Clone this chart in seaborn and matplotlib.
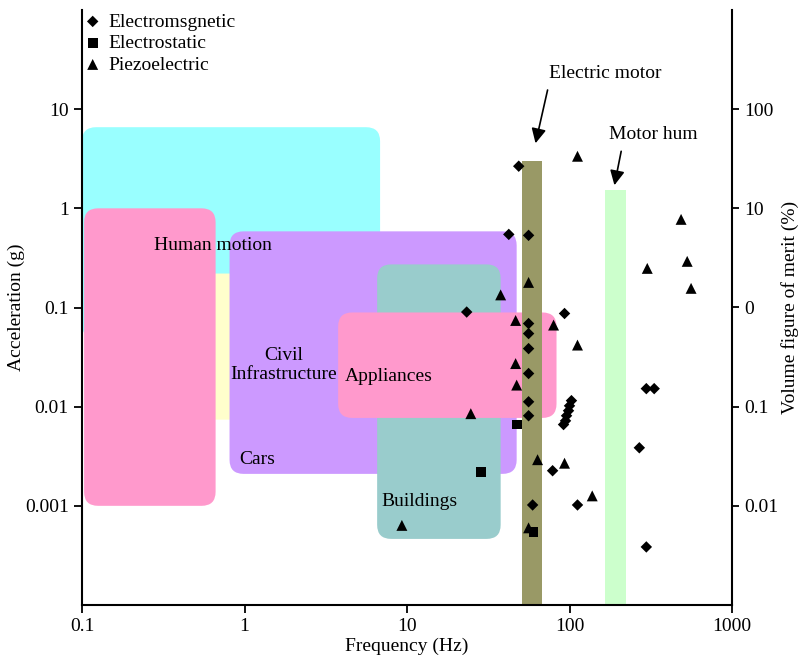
import numpy as np
import pandas as pd
import matplotlib
matplotlib.use('Agg')
import matplotlib.pyplot as plt
import seaborn as sns
from matplotlib.patches import FancyBboxPatch
from matplotlib.ticker import NullLocator

# scatter points: frequency (Hz), acceleration (g)
em_freq = [48.7, 42.3, 56.0, 23.3, 93.2, 56.0, 56.0, 56.0, 56.0, 56.0, 56.0,
           102.8, 100.0, 98.6, 95.9, 94.5, 91.9, 78.7, 59.3, 112.0,
           297.0, 332.0, 269.0, 297.0]
em_acc = [2.66, 0.546, 0.534, 0.090, 0.087, 0.0689, 0.0546, 0.0385, 0.0216, 0.0112, 0.0081,
          0.0115, 0.0102, 0.0091, 0.0081, 0.0072, 0.0066, 0.00226, 0.00102, 0.00102,
          0.0152, 0.0152, 0.00385, 0.000385]

es_freq = [47.3, 28.4, 60.1]
es_acc = [0.0066, 0.0022, 0.000546]

pz_freq = [112.0, 37.7, 56.0, 46.6, 79.8, 112.0, 46.6, 47.3, 24.7, 63.6, 93.2,
           138.0, 9.3, 56.0, 486.0, 301.0, 530.0, 560.0]
pz_acc = [3.35, 0.134, 0.179, 0.074, 0.0665, 0.0418, 0.0272, 0.0165, 0.0085, 0.00292, 0.00269,
          0.00126, 0.000635, 0.0006, 0.774, 0.248, 0.292, 0.156]

# application regions (frequency / acceleration ranges)
region_f_lo = [0.1, 0.3, 0.103, 0.809, 6.55, 3.77]
region_f_hi = [6.83, 1.5, 0.664, 47.3, 37.7, 83.2]
region_a_lo = [0.049, 0.0074, 0.001, 0.0021, 0.000464, 0.0077]
region_a_hi = [6.58, 0.22, 1.0, 0.586, 0.272, 0.0891]
region_colors = ['#99ffff', '#ffffcc', '#ff99cc', '#cc99ff', '#99cccc', '#ff99cc']

# vertical bands: electric motor and motor hum
band_f_lo = [50.8, 166.0]
band_f_hi = [67.3, 224.0]
band_a_hi = [2.98, 1.52]
band_colors = ['#999966', '#ccffcc']

x_ticks = [0.1, 1, 10, 100, 1000]
x_ticklabels = ['0.1', '1', '10', '100', '1000']
y_ticks = [0.001, 0.01, 0.1, 1, 10]
y_ticklabels = ['0.001', '0.01', '0.1', '1', '10']
y2_ticks = [0.01, 0.1, 1, 10, 100]
y2_ticklabels = ['0.01', '0.1', '0', '10', '100']

sns.set_style('ticks')
plt.rcParams['font.family'] = ['Liberation Serif', 'DejaVu Serif']
plt.rcParams['text.color'] = 'black'
plt.rcParams['axes.labelcolor'] = 'black'
plt.rcParams['xtick.color'] = 'black'
plt.rcParams['ytick.color'] = 'black'
fs = 14

fig = plt.figure(figsize=(7.98, 6.56), dpi=100)
ax = fig.add_axes([82 / 798, 1 - 605 / 656, 650 / 798, 595 / 656])
ax.set_xscale('log')
ax.set_yscale('log')
ax.set_xlim(0.1, 1000)
ax.set_ylim(1e-4, 1e2)

# rounded boxes, placed in axes fractions via the log scales
ax_w, ax_h = 650.0, 595.0
r = 14 / ax_w


def to_axes(f, a):
    return ax.transAxes.inverted().transform(ax.transData.transform((f, a)))


for f0, f1, a0, a1, c in zip(region_f_lo, region_f_hi, region_a_lo, region_a_hi, region_colors):
    x0, y0 = to_axes(f0, a0)
    x1, y1 = to_axes(f1, a1)
    box = FancyBboxPatch((x0, y0), x1 - x0, y1 - y0,
                         boxstyle=f'round,pad=0,rounding_size={r}',
                         mutation_aspect=ax_w / ax_h,
                         transform=ax.transAxes, facecolor=c, edgecolor='none',
                         zorder=1, clip_on=True)
    ax.add_patch(box)

# motor bands
ymin = ax.get_ylim()[0]
for f0, f1, a1, c in zip(band_f_lo, band_f_hi, band_a_hi, band_colors):
    ax.bar(f0, a1 - ymin, width=f1 - f0, bottom=ymin, align='edge',
           color=c, edgecolor='none', zorder=2)

# scatter points
sns.scatterplot(x=em_freq, y=em_acc, marker='D', s=34, color='black',
                edgecolor='none', label='Electromsgnetic', ax=ax, zorder=4)
sns.scatterplot(x=es_freq, y=es_acc, marker='s', s=50, color='black',
                edgecolor='none', label='Electrostatic', ax=ax, zorder=4)
sns.scatterplot(x=pz_freq, y=pz_acc, marker='^', s=62, color='black',
                edgecolor='none', label='Piezoelectric', ax=ax, zorder=4)

# region labels
ax.text(0.636, 0.423, 'Human motion', ha='center', va='center', fontsize=fs, zorder=3)
ax.text(1.74, 0.0263, 'Civil\nInfrastructure', ha='center', va='center',
        fontsize=fs, linespacing=1.2, zorder=3)
ax.text(7.76, 0.0201, 'Appliances', ha='center', va='center', fontsize=fs, zorder=3)
ax.text(1.19, 0.00292, 'Cars', ha='center', va='center', fontsize=fs, zorder=3)
ax.text(11.9, 0.0011, 'Buildings', ha='center', va='center', fontsize=fs, zorder=3)

arrow = dict(arrowstyle='-|>', color='black', lw=1.2, mutation_scale=22,
             shrinkA=0, shrinkB=0)
ax.text(166, 23.1, 'Electric motor', ha='center', va='center', fontsize=fs)
ax.annotate('', xy=(61.8, 4.53), xytext=(73.3, 15.6), arrowprops=arrow)
ax.text(328, 5.59, 'Motor hum', ha='center', va='center', fontsize=fs)
ax.annotate('', xy=(189, 1.71), xytext=(208, 3.76), arrowprops=arrow)

# axes styling
ax.set_xticks(x_ticks)
ax.set_xticklabels(x_ticklabels)
ax.set_yticks(y_ticks)
ax.set_yticklabels(y_ticklabels)
ax.xaxis.set_minor_locator(NullLocator())
ax.yaxis.set_minor_locator(NullLocator())
ax.tick_params(direction='out', length=6, width=1.3, labelsize=fs, color='black')
ax.set_xlabel('Frequency (Hz)', fontsize=fs, labelpad=2)
ax.set_ylabel('Acceleration (g)', fontsize=fs, labelpad=0)
for side in ['left', 'bottom']:
    ax.spines[side].set_linewidth(1.5)
    ax.spines[side].set_color('black')
ax.spines['top'].set_visible(False)
ax.spines['right'].set_visible(False)

ax2 = ax.twinx()
ax2.set_yscale('log')
ax2.set_ylim(1e-3, 1e3)
ax2.set_yticks(y2_ticks)
ax2.set_yticklabels(y2_ticklabels)
ax2.yaxis.set_minor_locator(NullLocator())
ax2.tick_params(direction='out', length=5, width=1.3, labelsize=fs, color='black')
ax2.set_ylabel('Volume figure of merit (%)', fontsize=fs, labelpad=2)
ax2.spines['right'].set_linewidth(1.5)
ax2.spines['right'].set_color('black')
for side in ['top', 'left', 'bottom']:
    ax2.spines[side].set_visible(False)

ax.legend(loc='upper left', bbox_to_anchor=(-0.006, 1.0), frameon=False, fontsize=fs,
          handletextpad=0.2, borderaxespad=0.05, borderpad=0.1, labelspacing=0.2,
          handlelength=1.2)

fig.savefig('out.png', dpi=100)
